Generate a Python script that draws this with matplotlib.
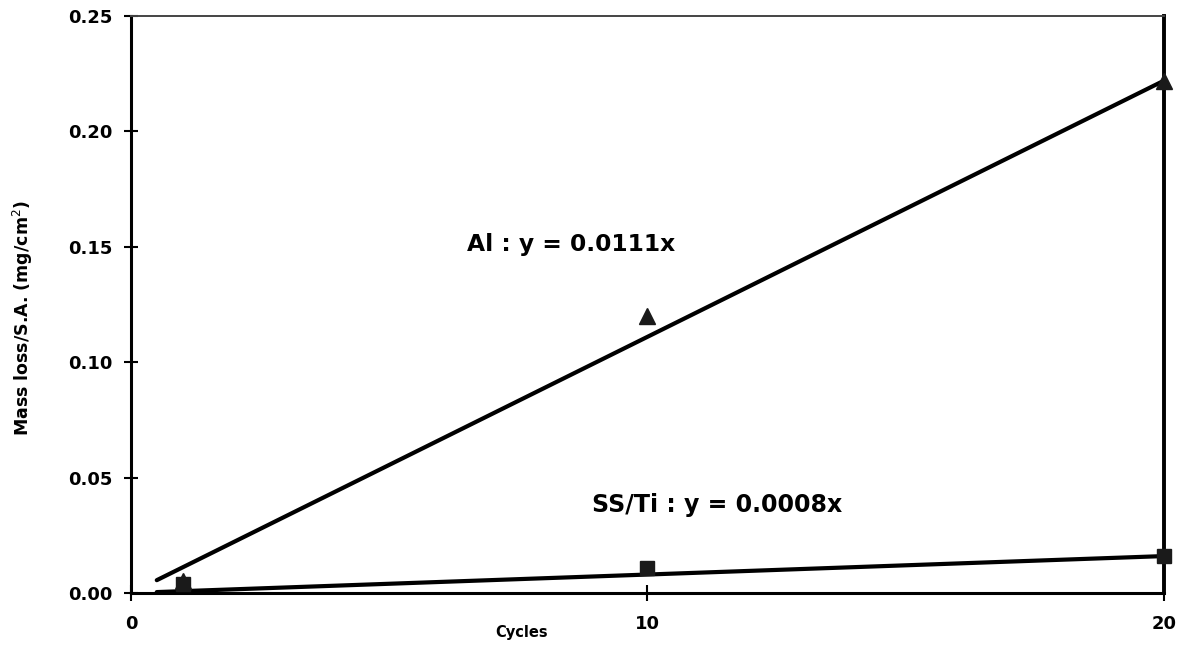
import matplotlib

matplotlib.use("Agg")

import matplotlib.pyplot as plt
import numpy as np

# measured mass loss per surface area after each number of cycles
CYCLES = [1, 10, 20]
AL_LOSS = [0.005, 0.120, 0.222]
SSTI_LOSS = [0.004, 0.011, 0.016]

# linear fits through the origin
AL_SLOPE = 0.0111
SSTI_SLOPE = 0.0008
FIT_START = 0.5
FIT_END = 20.0

X_TICKS = [0, 10, 20]
Y_TICKS = [0.00, 0.05, 0.10, 0.15, 0.20, 0.25]

FONT = "DejaVu Sans"
W, H = 1185, 651


def fig_pos(x_px: float, y_px: float) -> tuple[float, float]:
    # pixel position measured from the top-left corner -> figure fraction
    return x_px / W, 1 - y_px / H


def main() -> None:
    fig = plt.figure(figsize=(W / 100, H / 100), dpi=100)
    ax = fig.add_axes([0.1105, 0.0891, 0.8718, 0.8863])

    fit_x = np.array([FIT_START, FIT_END])
    ax.plot(fit_x, AL_SLOPE * fit_x, color="black", linewidth=3.0, solid_capstyle="round", zorder=3)
    ax.plot(fit_x, SSTI_SLOPE * fit_x, color="black", linewidth=3.0, solid_capstyle="round", zorder=3)

    ax.plot(CYCLES, SSTI_LOSS, linestyle="none", marker="s", markersize=10, color="#1a1a1a",
            zorder=4, clip_on=False)
    ax.plot(CYCLES, AL_LOSS, linestyle="none", marker="^", markersize=11, color="#1a1a1a",
            zorder=4, clip_on=False)

    ax.set_xlim(0, 20)
    ax.set_ylim(0, 0.25)
    ax.set_xticks(X_TICKS)
    ax.set_yticks(Y_TICKS)
    ax.set_yticklabels([f"{v:.2f}" for v in Y_TICKS])
    ax.tick_params(axis="y", direction="inout", length=10, width=1.5, pad=8)
    ax.tick_params(axis="x", direction="inout", length=11, width=1.5, pad=10)
    for label in ax.get_xticklabels() + ax.get_yticklabels():
        label.set_fontfamily(FONT)
        label.set_fontweight("bold")
        label.set_fontsize(13)

    ax.spines["left"].set_linewidth(2.2)
    ax.spines["bottom"].set_linewidth(2.2)
    ax.spines["right"].set_linewidth(2.8)
    ax.spines["top"].set_linewidth(1.4)
    ax.spines["top"].set_color("#444444")

    fig.text(*fig_pos(467, 245), "Al : y = 0.0111x", fontfamily=FONT, fontweight="bold",
             fontsize=16.8, va="center", ha="left")
    fig.text(*fig_pos(592, 505), "SS/Ti : y = 0.0008x", fontfamily=FONT, fontweight="bold",
             fontsize=17, va="center", ha="left")

    fig.text(*fig_pos(522, 633), "Cycles", fontfamily=FONT, fontweight="bold",
             fontsize=10.5, ha="center", va="center")
    fig.text(*fig_pos(23, 318), "Mass loss/S.A. (mg/cm$^2$)", fontfamily=FONT,
             fontweight="bold", fontsize=12.5, rotation=90, ha="center", va="center")

    fig.savefig("out.png", dpi=100, facecolor="white")
    plt.close(fig)


if __name__ == "__main__":
    main()
